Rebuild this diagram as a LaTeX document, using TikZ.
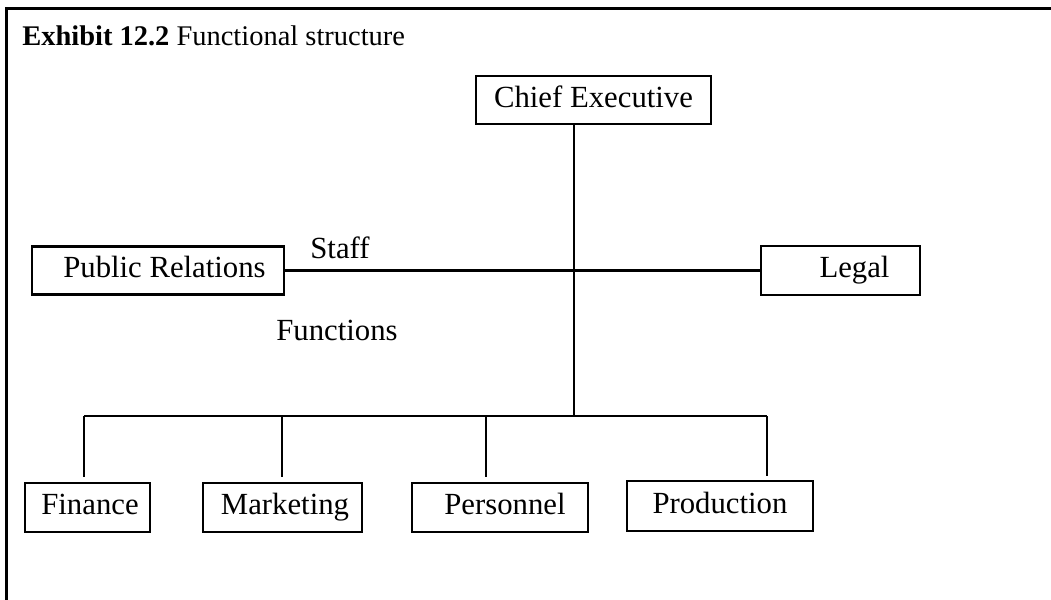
\documentclass[tikz,border=0pt]{standalone}
\usepackage{fontspec}
\setmainfont{Liberation Serif}
\tikzset{
	unitbox/.style={draw, line width=1.6pt, inner sep=0pt, text height=10pt, text depth=2pt},
	link/.style={line width=1.5pt},
	frameline/.style={line width=1.8pt}
}
\begin{document}
\begin{tikzpicture}[x=0.02cm, y=-0.02cm, font=\fontsize{17.5}{21}\selectfont]
			\useasboundingbox (0,0) rectangle (1051,599);
			\draw[frameline](1060,8.5) to (6.5,8.5) to (6.5,610);
			\node[anchor=base west, inner sep=0pt, font=\fontsize{16.2}{19}\selectfont] (title) at(22,45){\textbf{Exhibit 12.2} Functional structure};

			\node[unitbox, minimum width=4.7cm, minimum height=0.96cm] (ceo) at(593.5,100){Chief Executive};

			\node[unitbox, minimum width=5.04cm, minimum height=0.96cm] (pr) at(158,270.5){\hspace{0.26cm}Public Relations};
			\node[unitbox, minimum width=3.18cm, minimum height=0.98cm] (legal) at(840.5,270.5){\hspace{0.56cm}Legal};
				\node[anchor=base] (staff) at(340,258){Staff};
				\node[anchor=base] (functions) at(337,340){Functions};

			\coordinate (hub) at(574,270.5);
			\coordinate (bus) at(574,416);
			\draw[link](ceo.south -| hub) to (bus);
			\draw[link](pr.east) to (legal.west);

			\node[unitbox, minimum width=2.5cm, minimum height=0.98cm] (fin) at(87.5,507.5){\hspace{0.1cm}Finance};
			\node[unitbox, minimum width=3.18cm, minimum height=0.98cm] (mkt) at(282.5,507.5){\hspace{0.1cm}Marketing};
			\node[unitbox, minimum width=3.52cm, minimum height=0.98cm] (per) at(500,507.5){\hspace{0.2cm}Personnel};
			\node[unitbox, minimum width=3.72cm, minimum height=1cm] (prod) at(720,506){Production};

			\coordinate (d1) at(84,416);
			\coordinate (d2) at(282,416);
			\coordinate (d3) at(486,416);
			\coordinate (d4) at(767,416);
				\draw[link](d1) to (d4);
				\draw[link, shorten >=0.1cm](d1) to (d1 |- fin.north);
				\draw[link, shorten >=0.1cm](d2) to (d2 |- mkt.north);
				\draw[link, shorten >=0.1cm](d3) to (d3 |- per.north);
				\draw[link, shorten >=0.08cm](d4) to (d4 |- prod.north);
\end{tikzpicture}
\end{document}
